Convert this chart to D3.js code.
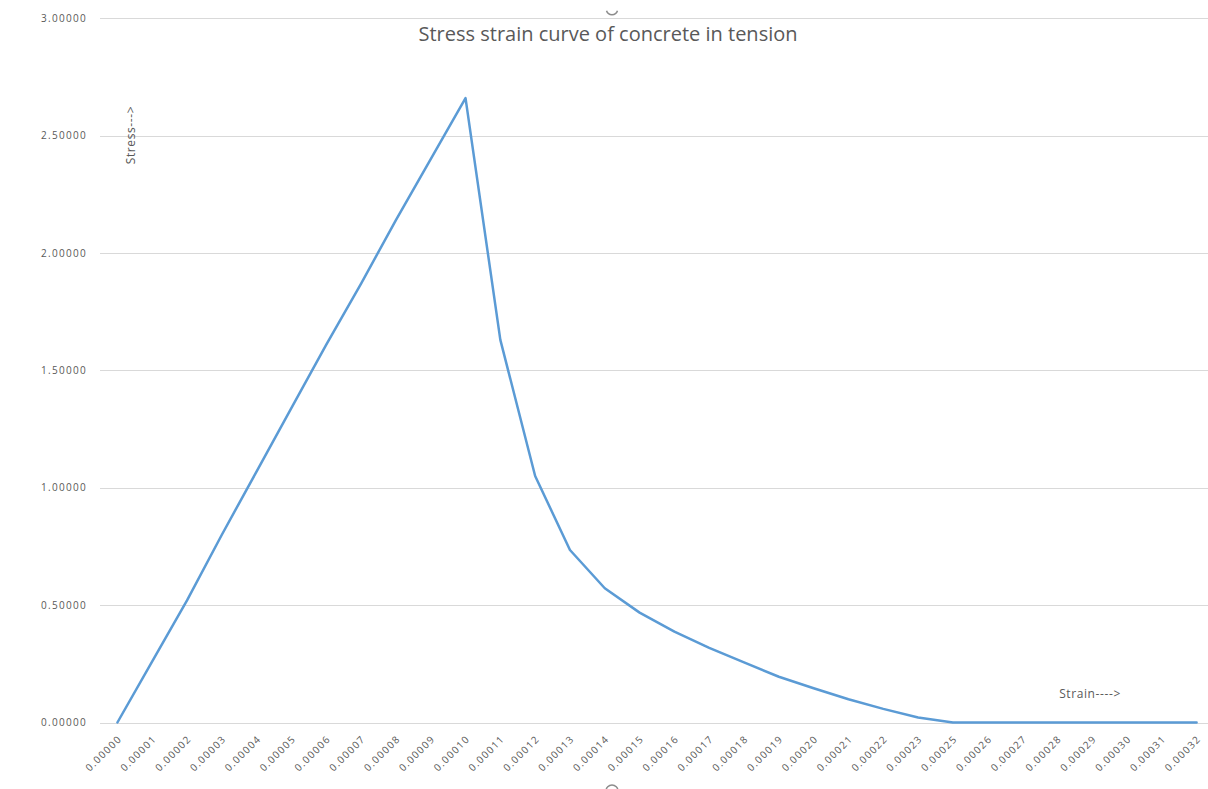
<!DOCTYPE html>
<html>
<head>
<meta charset="utf-8">
<script src="https://cdn.jsdelivr.net/npm/d3@7"></script>
<style>
  html, body { margin: 0; padding: 0; background: #fff; }
  svg { display: block; }
  text { font-family: "Open Sans", "Liberation Sans", sans-serif; }
</style>
</head>
<body>
<svg id="chart" width="1208" height="789"></svg>
<script>
// ---- data ----
const categories = [
  "0.00000","0.00001","0.00002","0.00003","0.00004","0.00005","0.00006","0.00007",
  "0.00008","0.00009","0.00010","0.00011","0.00012","0.00013","0.00014","0.00015",
  "0.00016","0.00017","0.00018","0.00019","0.00020","0.00021","0.00022","0.00023",
  "0.00025","0.00026","0.00027","0.00028","0.00029","0.00030","0.00031","0.00032"
];
const stress = [
  0, 0.26, 0.52, 0.80, 1.07, 1.34, 1.61, 1.87,
  2.14, 2.40, 2.66, 1.63, 1.05, 0.735, 0.572, 0.468,
  0.387, 0.318, 0.256, 0.195, 0.146, 0.099, 0.058, 0.021,
  0, 0, 0, 0, 0, 0, 0, 0
];
const yTicks = [0, 0.5, 1.0, 1.5, 2.0, 2.5, 3.0];
const title = "Stress strain curve of concrete in tension";
const yAxisTitle = "Stress--->";
const xAxisTitle = "Strain---->";

// ---- layout ----
const svg = d3.select("#chart");
const plotLeft = 100, plotRight = 1214, gridRight = 1208;
const plotTop = 18.3, plotBottom = 722.5;

const x = d3.scaleBand().domain(categories).range([plotLeft, plotRight]);
const xc = c => x(c) + x.bandwidth() / 2;
const y = d3.scaleLinear().domain([0, 3]).range([plotBottom, plotTop]);

const textColor = "#595959";

// gridlines
svg.append("g")
  .selectAll("line")
  .data(yTicks)
  .join("line")
  .attr("x1", plotLeft).attr("x2", gridRight)
  .attr("y1", d => Math.round(y(d)) + 0.5).attr("y2", d => Math.round(y(d)) + 0.5)
  .attr("stroke", "#d9d9d9").attr("stroke-width", 1);

// y axis labels
const yAxis = d3.axisLeft(y).tickValues(yTicks).tickFormat(d3.format(".5f")).tickSize(0).tickPadding(13);
const gy = svg.append("g").attr("transform", `translate(${plotLeft},0)`).call(yAxis);
gy.select(".domain").remove();
gy.selectAll("text")
  .attr("fill", textColor)
  .style("font-size", "10px")
  .style("letter-spacing", "1.3px")
  .style("font-family", "'Open Sans', sans-serif");

// x axis labels (rotated -45)
const xAxis = d3.axisBottom(x).tickSize(0).tickPadding(0);
const gx = svg.append("g").attr("transform", `translate(0,${plotBottom})`).call(xAxis);
gx.select(".domain").remove();
gx.selectAll(".tick text")
  .attr("fill", textColor)
  .style("font-size", "10px")
  .style("letter-spacing", "1.3px")
  .style("font-family", "'Open Sans', sans-serif")
  .attr("text-anchor", "end")
  .attr("dy", null)
  .attr("y", 0)
  .attr("transform", "translate(5,17) rotate(-45)");

// line
const line = d3.line()
  .x((d, i) => xc(categories[i]))
  .y(d => y(d));
svg.append("path")
  .datum(stress)
  .attr("d", line)
  .attr("fill", "none")
  .attr("stroke", "#5b9bd5")
  .attr("stroke-width", 2.5)
  .attr("stroke-linejoin", "round")
  .attr("stroke-linecap", "round");

// title
svg.append("text")
  .attr("x", 608).attr("y", 41)
  .attr("text-anchor", "middle")
  .attr("fill", textColor)
  .style("font-size", "20px")
  .text(title);

// axis titles
svg.append("text")
  .attr("transform", "translate(135,135) rotate(-90)")
  .attr("text-anchor", "middle")
  .attr("fill", textColor)
  .style("font-size", "12px")
  .style("letter-spacing", "0.6px")
  .text(yAxisTitle);

svg.append("text")
  .attr("x", 1090).attr("y", 698)
  .attr("text-anchor", "middle")
  .attr("fill", textColor)
  .style("font-size", "12px")
  .style("letter-spacing", "0.6px")
  .text(xAxisTitle);

// selection handle remnants
svg.append("path")
  .attr("d", d3.arc()({innerRadius: 5, outerRadius: 6.5, startAngle: Math.PI * 0.6, endAngle: Math.PI * 1.4}))
  .attr("transform", "translate(612,9)")
  .attr("fill", "#8c8c8c");
svg.append("circle")
  .attr("cx", 612).attr("cy", 791).attr("r", 6)
  .attr("fill", "none").attr("stroke", "#8c8c8c").attr("stroke-width", 1.5);
</script>
</body>
</html>
